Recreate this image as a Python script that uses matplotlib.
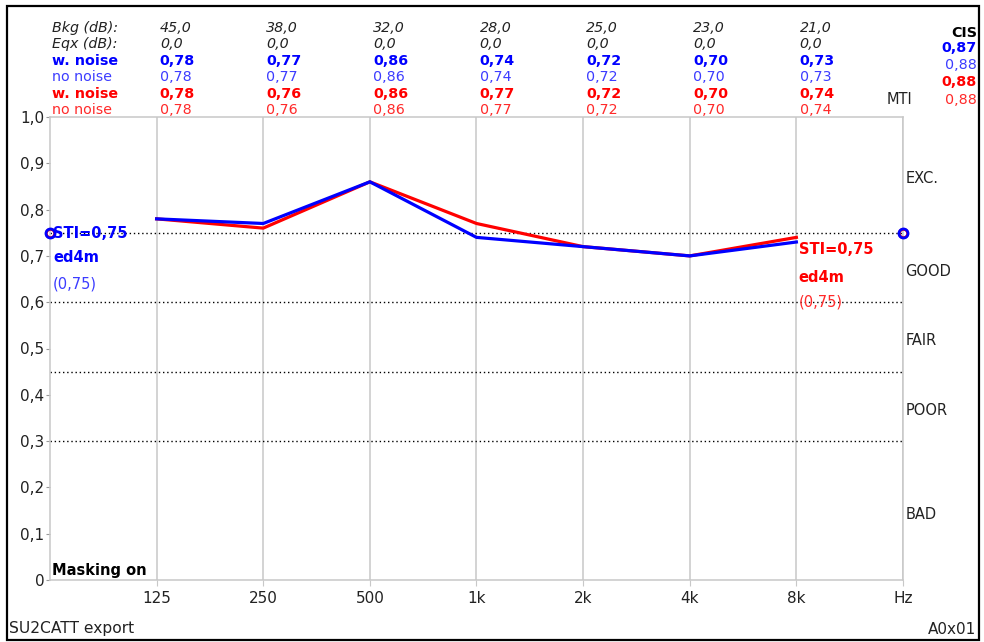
import matplotlib
matplotlib.use("Agg")
import matplotlib.pyplot as plt
from matplotlib.patches import Rectangle
from matplotlib.transforms import blended_transform_factory

# ---- data ----
bands = ["125", "250", "500", "1k", "2k", "4k", "8k"]
bkg_db = ["45,0", "38,0", "32,0", "28,0", "25,0", "23,0", "21,0"]
eqx_db = ["0,0", "0,0", "0,0", "0,0", "0,0", "0,0", "0,0"]
mti_blue_noise = [0.78, 0.77, 0.86, 0.74, 0.72, 0.70, 0.73]
mti_blue_clean = [0.78, 0.77, 0.86, 0.74, 0.72, 0.70, 0.73]
mti_red_noise = [0.78, 0.76, 0.86, 0.77, 0.72, 0.70, 0.74]
mti_red_clean = [0.78, 0.76, 0.86, 0.77, 0.72, 0.70, 0.74]
cis_values = [0.87, 0.88, 0.88, 0.88]
sti_blue = 0.75
sti_red = 0.75
receiver = "ed4m"
rating_limits = [0.30, 0.45, 0.60, 0.75]
rating_names = ["BAD", "POOR", "FAIR", "GOOD", "EXC."]
y_tick_vals = [0, 0.1, 0.2, 0.3, 0.4, 0.5, 0.6, 0.7, 0.8, 0.9, 1.0]
y_tick_labels = ["0", "0,1", "0,2", "0,3", "0,4", "0,5", "0,6", "0,7", "0,8", "0,9", "1,0"]

BLUE = "#0000ff"
BLUE_L = "#3c3cff"
RED = "#ff0000"
RED_L = "#ff2a2a"
TXT = "#222222"
GRID = "#c8c8c8"

def fmt(v):
    return f"{v:.2f}".replace(".", ",")

plt.rcParams["font.family"] = ["DejaVu Sans"]
FS = 10.5      # body text
FS_T = 11      # axis tick labels
FS_H = 10.3    # header table

W, H = 984, 642
fig = plt.figure(figsize=(W / 100, H / 100), dpi=100)
fig.patch.set_facecolor("white")

# plot area in pixels
L, R, T, B = 50, 903, 117, 580
ax = fig.add_axes([L / W, (H - B) / H, (R - L) / W, (B - T) / H])
ax.set_xlim(0, 8)
ax.set_ylim(0, 1)

xs = list(range(1, len(bands) + 1))
ax.set_xticks(xs + [8])
ax.set_xticklabels(bands + ["Hz"], fontsize=FS_T, color=TXT)
ax.set_yticks(y_tick_vals)
ax.set_yticklabels(y_tick_labels, fontsize=FS_T, color=TXT)
ax.tick_params(axis="x", length=4, color=GRID, pad=4)
ax.tick_params(axis="y", length=3, color="#999999", pad=1)
ax.grid(axis="x", color=GRID, linewidth=1.1)
for s in ax.spines.values():
    s.set_color(GRID)
    s.set_linewidth(1.1)

def px2y(ypix):
    return (B - ypix) / (B - T)

bt = blended_transform_factory(ax.transData, ax.transAxes)

# rating borders and class names
for lim in rating_limits:
    ax.axhline(lim, color="black", linestyle=(0, (1, 2)), linewidth=1.0, zorder=2)
bounds = [0] + rating_limits + [1.0]
for i, name in enumerate(rating_names):
    ax.text(8.02, (bounds[i] + bounds[i + 1]) / 2 - 4 / (B - T), name, fontsize=FS,
            color=TXT, va="center", ha="left", clip_on=False)

# MTI curves
ax.plot(xs, mti_red_noise, color=RED, linewidth=2.3, zorder=4, solid_joinstyle="miter")
ax.plot(xs, mti_blue_noise, color=BLUE, linewidth=2.3, zorder=5, solid_joinstyle="miter")

# STI markers at both edges
for xx in (0, 8):
    ax.plot([xx], [sti_red], marker="o", ms=6, mfc="none", mec=RED, mew=2,
            clip_on=False, zorder=6)
    ax.plot([xx], [sti_blue], marker="o", ms=6.5, mfc="none", mec=BLUE, mew=2,
            clip_on=False, zorder=7)

# STI annotations
ax.text(0.03, px2y(233), f"STI={fmt(sti_blue)}", color=BLUE, fontsize=FS,
        fontweight="bold", va="center", ha="left", transform=bt)
ax.text(0.03, px2y(258), receiver, color=BLUE, fontsize=FS, fontweight="bold",
        va="center", ha="left", transform=bt)
ax.text(0.03, px2y(284), f"({fmt(sti_blue)})", color=BLUE_L, fontsize=FS,
        va="center", ha="left", transform=bt)
ax.text(7.02, px2y(250), f"STI={fmt(sti_red)}", color=RED, fontsize=FS,
        fontweight="bold", va="center", ha="left", transform=bt)
ax.text(7.02, px2y(277), receiver, color=RED, fontsize=FS, fontweight="bold",
        va="center", ha="left", transform=bt)
ax.text(7.02, px2y(302), f"({fmt(sti_red)})", color=RED_L, fontsize=FS,
        va="center", ha="left", transform=bt)

ax.text(0.02, px2y(570), "Masking on", color="black", fontsize=FS, fontweight="bold",
        va="center", ha="left", transform=bt)

# header table above the plot
rows = [
    ("Bkg (dB):", bkg_db, TXT, "normal", "italic", 28),
    ("Eqx (dB):", eqx_db, TXT, "normal", "italic", 44),
    ("w. noise", [fmt(v) for v in mti_blue_noise], BLUE, "bold", "normal", 61),
    ("no noise", [fmt(v) for v in mti_blue_clean], BLUE_L, "normal", "normal", 77),
    ("w. noise", [fmt(v) for v in mti_red_noise], RED, "bold", "normal", 94),
    ("no noise", [fmt(v) for v in mti_red_clean], RED_L, "normal", "normal", 110),
]
for label, vals, col, wt, st, ypix in rows:
    ax.text(0.02, px2y(ypix), label, color=col, fontsize=FS_H, fontweight=wt,
            fontstyle=st, va="center", ha="left", transform=bt, clip_on=False)
    for xx, v in zip(xs, vals):
        ax.text(xx + 0.03, px2y(ypix), v, color=col, fontsize=FS_H, fontweight=wt,
                fontstyle=st, va="center", ha="left", transform=bt, clip_on=False)

# CIS column and MTI tag
fig.text(977 / W, (H - 33) / H, "CIS", color="black", fontsize=FS_H,
         fontweight="bold", ha="right", va="center")
cis_cols = [(BLUE, "bold"), (BLUE_L, "normal"), (RED, "bold"), (RED_L, "normal")]
for (col, wt), v, ypix in zip(cis_cols, cis_values, [48, 65, 82, 100]):
    fig.text(977 / W, (H - ypix) / H, fmt(v), color=col, fontsize=FS_H,
             fontweight=wt, ha="right", va="center")
fig.text(899 / W, (H - 100) / H, "MTI", color=TXT, fontsize=FS, ha="center", va="center")

# footer
fig.text(9 / W, (H - 629) / H, "SU2CATT export", color=TXT, fontsize=11.2,
         ha="left", va="center")
fig.text(976 / W, (H - 629) / H, "A0x01", color=TXT, fontsize=11,
         ha="right", va="center")

# outer frame
fig.patches.append(Rectangle((7 / W, 2 / H), 972 / W, 634 / H, transform=fig.transFigure,
                             fill=False, edgecolor="black", linewidth=1.6))

fig.savefig("out.png", dpi=100)
